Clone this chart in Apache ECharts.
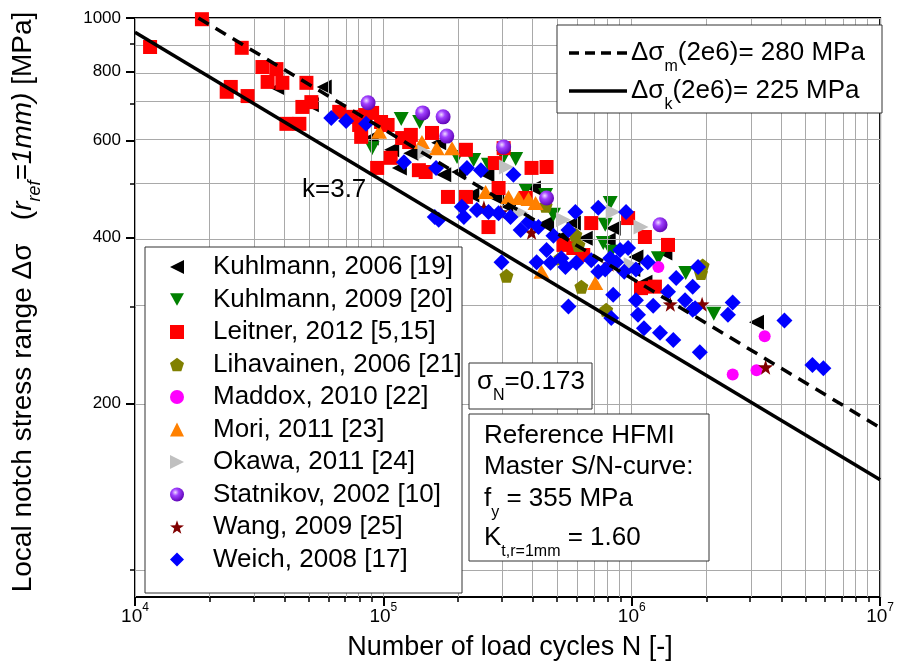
<!DOCTYPE html>
<html><head><meta charset="utf-8">
<script src="https://cdn.jsdelivr.net/npm/echarts@6/dist/echarts.min.js"></script>
<style>html,body{margin:0;padding:0;background:#fff}#c{width:897px;height:663px}</style>
</head><body><div id="c"></div>
<script>
// ---------- data (N cycles, stress range MPa) ----------
const kuhlmann2006 = [[3.75e4,747],[5.13e4,696],[5.78e4,750],[8.93e4,606],[1.08e5,577],[1.29e5,569],[1.16e5,535],[1.67e5,594],[1.75e5,520],[2.01e5,526],[2.61e5,520],[2.27e5,478],[2.86e5,472],[4.02e5,492],[3.19e5,455],[4.54e5,425],[5.82e5,425],[8.42e5,416],[8.04e5,396],[6.50e5,399],[5.21e5,401],[1.04e6,369],[1.01e6,350],[1.36e6,375],[1.13e6,332],[3.18e6,281]];
const kuhlmann2009 = [[1.18e5,656],[1.40e5,648],[9.01e4,581],[1.98e5,560],[2.31e5,553],[2.65e5,542],[3.05e5,560],[3.41e5,555],[3.74e5,488],[4.50e5,478],[4.84e5,440],[8.19e5,462],[7.82e5,422],[7.68e5,391],[8.27e5,377],[1.28e6,367],[1.65e6,345],[2.14e6,291]];
const leitner2012 = [[1.15e4,886],[1.86e4,995],[2.69e4,883],[3.26e4,815],[3.71e4,808],[3.42e4,766],[3.92e4,763],[4.90e4,763],[2.43e4,750],[2.34e4,735],[2.84e4,722],[4.72e4,690],[4.07e4,643],[4.59e4,643],[5.13e4,704],[7.42e4,662],[7.99e4,640],[9.01e4,673],[9.79e4,648],[8.14e4,609],[1.19e5,606],[1.29e5,614],[1.57e5,619],[1.07e5,558],[9.44e4,535],[1.39e5,530],[1.48e5,526],[1.27e5,596],[2.15e5,577],[3.05e5,581],[2.81e5,546],[3.95e5,535],[4.54e5,537],[1.82e5,474],[2.15e5,474],[2.91e5,492],[2.65e5,418],[3.74e5,472],[6.87e5,425],[9.67e5,434],[1.13e6,401],[1.40e6,388],[5.82e5,383],[6.38e5,372],[1.24e6,326],[1.09e6,324],[6.64e4,676],[1.04e5,640],[8.45e4,667],[5.31e5,388]];
const lihavainen2006 = [[4.50e5,457],[5.93e5,405],[6.10e5,388],[5.16e5,367],[3.13e5,341],[6.27e5,326],[7.89e5,296],[1.90e6,345],[1.93e6,356]];
const maddox2010 = [[1.28e6,354],[3.43e6,265],[2.55e6,226],[3.18e6,230]];
const mori2011 = [[9.61e4,622],[1.43e5,596],[1.64e5,581],[1.89e5,581],[2.58e5,484],[3.19e5,474],[3.50e5,472],[3.84e5,470],[4.10e5,462],[4.33e5,347],[7.13e5,331]];
const okawa2011 = [[1.47e5,572],[3.13e5,537],[3.57e5,444],[5.31e5,431],[8.42e5,445],[1.09e6,418],[9.95e5,357]];
const statnikov2002 = [[8.68e4,702],[1.44e5,673],[1.74e5,662],[1.80e5,611],[3.05e5,584],[4.54e5,472],[1.30e6,422]];
const wang2009 = [[2.54e5,453],[2.97e5,445],[3.95e5,409],[8.11e5,358],[1.43e6,303],[1.92e6,303],[3.46e6,233]];
const weich2008 = [[6.17e4,659],[7.08e4,651],[8.52e4,643],[1.21e5,548],[1.63e5,535],[1.61e5,436],[2.17e5,535],[2.47e5,530],[3.34e5,520],[2.07e5,455],[2.65e5,445],[2.91e5,443],[3.25e5,436],[2.11e5,436],[3.57e5,413],[4.21e5,418],[5.93e5,445],[7.33e5,453],[9.49e5,445],[5.41e5,354],[6.87e5,364],[7.82e5,350],[8.98e5,380],[9.67e5,383],[1.04e6,350],[8.42e5,315],[1.04e6,308],[1.22e6,301],[5.56e5,300],[1.06e6,290],[1.40e6,319],[1.51e6,338],[1.64e6,308],[1.76e6,326],[1.85e6,354],[1.80e6,298],[2.99e5,361],[4.14e5,361],[4.71e5,360],[1.67e5,431],[8.27e5,286],[1.12e6,274],[1.30e6,269],[1.47e6,261],[1.88e6,248],[1.76e6,296],[2.55e6,305],[2.44e6,290],[4.12e6,283],[5.34e6,235],[5.91e6,232],[5.21e5,367],[5.98e5,360],[7.33e5,347],[8.66e5,361],[9.33e5,347],[1.16e6,361],[2.38e5,449],[3.84e5,427],[4.84e5,403],[5.56e5,413],[8.19e5,367],[4.54e5,380]];
// S/N curves (end points)
const curveMean = [[1.8e4,1000],[1.0e7,181]];   // dashed, 280 MPa @ 2e6
const curveChar = [[1.0e4,942],[1.0e7,145.6]];  // solid, 225 MPa @ 2e6
// axis ticks
const xMajor = [1e4,1e5,1e6,1e7];
const xMinor = [2e4,3e4,4e4,5e4,6e4,7e4,8e4,9e4,2e5,3e5,4e5,5e5,6e5,7e5,8e5,9e5,2e6,3e6,4e6,5e6,6e6,7e6,8e6,9e6];
const yMajor = [200,400,600,800,1000];
const yMinor = [100,300,500,700,900];
const yMin = 89.3, yMax = 1000;

// ---------- helpers ----------
const L = Math.log10;
const tr = arr => arr.map(p => [L(p[0]), L(p[1])]);
const FONT = 'Liberation Sans, Arial, sans-serif';
const SYM = {
  left: 'path://M0,5L10,0L10,10Z',
  down: 'path://M0,0L10,0L5,9Z',
  right: 'path://M0,0L10,5L0,10Z',
  pent: 'path://M10,0L19.51,6.91L15.88,18.09L4.12,18.09L0.49,6.91Z',
  star: 'path://M10,0L12.35,6.76L19.51,6.91L13.8,11.24L15.88,18.09L10,14L4.12,18.09L6.2,11.24L0.49,6.91L7.65,6.76Z'
};
const sphere = {type:'radial', x:0.38, y:0.35, r:0.7, colorStops:[{offset:0,color:'#f0ddff'},{offset:0.35,color:'#a040ff'},{offset:1,color:'#5a00b0'}]};

const defs = [
  ['Kuhlmann, 2006 [19]', kuhlmann2006, SYM.left, '#000000', [15,15]],
  ['Kuhlmann, 2009 [20]', kuhlmann2009, SYM.down, '#008000', [15,14]],
  ['Leitner, 2012 [5,15]', leitner2012, 'rect', '#ff0000', 14],
  ['Lihavainen, 2006 [21]', lihavainen2006, SYM.pent, '#808000', 14],
  ['Maddox, 2010 [22]', maddox2010, 'circle', '#ff00ff', 12],
  ['Mori, 2011 [23]', mori2011, 'triangle', '#ff8000', [16,14]],
  ['Okawa, 2011 [24]', okawa2011, SYM.right, '#c0c0c0', [15,15]],
  ['Statnikov, 2002 [10]', statnikov2002, 'circle', sphere, 15],
  ['Wang, 2009 [25]', wang2009, SYM.star, '#800000', 15],
  ['Weich, 2008 [17]', weich2008, 'diamond', '#0000ff', 16]
];

const scatterSeries = defs.map((d,i) => ({
  name: d[0], type: 'scatter', data: tr(d[1]), symbol: d[2], symbolSize: d[4],
  itemStyle: {color: d[3], opacity: 1}, z: 3 + i, animation: false, silent: true
}));

const gridSeries = {
  type: 'scatter', data: [], silent: true, z: 1, animation: false,
  markLine: {
    silent: true, symbol: 'none', animation: false, label: {show: false},
    lineStyle: {color: '#a9a9a9', width: 1, type: 'solid'},
    data: xMajor.concat(xMinor).map(v => ({xAxis: L(v)})).concat(yMajor.concat(yMinor).map(v => ({yAxis: L(v)})))
  }
};

const lineSeries = [
  {type:'line', data: tr(curveMean), showSymbol:false, symbol:'none', z:20, animation:false, silent:true,
   lineStyle:{color:'#000', width:3.5, type:[12,8]}},
  {type:'line', data: tr(curveChar), showSymbol:false, symbol:'none', z:20, animation:false, silent:true,
   lineStyle:{color:'#000', width:3.5, type:'solid'}}
];

const txt = (x, y, rich, text) => ({
  type: 'text', x: x, y: y, z: 100,
  style: {text: text, rich: rich, fill: '#000', font: '26px ' + FONT, verticalAlign: 'middle'}
});

const richBox = {
  n: {fontSize: 26, fontFamily: FONT, lineHeight: 28, verticalAlign: 'middle'},
  sub: {fontSize: 16, fontFamily: FONT, lineHeight: 28, verticalAlign: 'bottom', padding:[0,0,-8,0]}
};

const chart = echarts.init(document.getElementById('c'), null, {renderer: 'canvas'});
chart.setOption({
  animation: false,
  backgroundColor: '#ffffff',
  grid: {left: 135, top: 18, width: 748, height: 579, show: true, borderColor: '#000', borderWidth: 2, containLabel: false},
  xAxis: [{
    type: 'value', min: 4, max: 7, interval: 1,
    axisLine: {show: true, onZero: false, lineStyle: {color: '#000', width: 2}},
    axisTick: {show: true, length: 9, lineStyle: {color: '#000', width: 2}, customValues: xMajor.map(L)},
    axisLabel: {show: true, margin: 5, customValues: xMajor.map(L),
      formatter: v => '{b|10}{s|' + Math.round(v) + '}',
      rich: {b: {fontSize: 19, fontFamily: FONT, color: '#000', lineHeight: 24, verticalAlign: 'bottom'},
             s: {fontSize: 12, fontFamily: FONT, color: '#000', lineHeight: 24, verticalAlign: 'top'}}},
    splitLine: {show: false}
  }, {
    type: 'value', min: 4, max: 7, position: 'bottom',
    axisLine: {show: false}, axisLabel: {show: false}, splitLine: {show: false},
    axisTick: {show: true, length: 5, lineStyle: {color: '#000', width: 1.5}, customValues: xMinor.map(L)}
  }],
  yAxis: [{
    type: 'value', min: L(yMin), max: L(yMax),
    axisLine: {show: true, onZero: false, lineStyle: {color: '#000', width: 2}},
    axisTick: {show: true, length: 9, lineStyle: {color: '#000', width: 2}, customValues: yMajor.map(L)},
    axisLabel: {show: true, margin: 14, customValues: yMajor.map(L), color: '#000', fontSize: 17, fontFamily: FONT,
      formatter: v => String(Math.round(Math.pow(10, v)))},
    splitLine: {show: false}
  }, {
    type: 'value', min: L(yMin), max: L(yMax), position: 'left',
    axisLine: {show: false}, axisLabel: {show: false}, splitLine: {show: false},
    axisTick: {show: true, length: 5, lineStyle: {color: '#000', width: 1.5}, customValues: yMinor.map(L)}
  }],
  legend: {
    show: true, orient: 'vertical', left: 165, top: 249,
    itemWidth: 14, itemHeight: 14, itemGap: 6.5, selectedMode: false,
    data: defs.map(d => d[0]),
    textStyle: {fontSize: 26, fontFamily: FONT, color: '#000', lineHeight: 26, padding: [0, 0, 0, 24]},
    z: 60
  },
  series: [gridSeries].concat(lineSeries, scatterSeries),
  graphic: [
    {type: 'rect', shape: {x: 145, y: 247, width: 317, height: 346}, style: {fill: '#fff', stroke: '#333', lineWidth: 1}, z: 50},
    {type: 'rect', shape: {x: 557, y: 25, width: 325, height: 88}, style: {fill: '#fff', stroke: '#333', lineWidth: 1}, z: 50},
    {type: 'line', shape: {x1: 569, y1: 53, x2: 627, y2: 53}, style: {stroke: '#000', lineWidth: 3.5, lineDash: [10, 6]}, z: 51},
    {type: 'line', shape: {x1: 569, y1: 91, x2: 627, y2: 91}, style: {stroke: '#000', lineWidth: 3.5}, z: 51},
    txt(631, 53, richBox, '{n|Δσ}{sub|m}{n|(2e6)= 280 MPa}'),
    txt(631, 91, richBox, '{n|Δσ}{sub|k}{n|(2e6)= 225 MPa}'),
    {type: 'rect', shape: {x: 469, y: 363, width: 123, height: 46}, style: {fill: '#fff', stroke: '#333', lineWidth: 1}, z: 50},
    txt(477, 382, richBox, '{n|σ}{sub|N}{n|=0.173}'),
    {type: 'rect', shape: {x: 469, y: 414, width: 240, height: 147}, style: {fill: '#fff', stroke: '#333', lineWidth: 1}, z: 50},
    txt(484, 436, richBox, '{n|Reference HFMI}'),
    txt(484, 467, richBox, '{n|Master S/N-curve:}'),
    txt(484, 499, richBox, '{n|f}{sub|y}{n| = 355 MPa}'),
    txt(484, 538, richBox, '{n|K}{sub|t,r=1mm}{n| = 1.60}'),
    txt(302, 190, richBox, '{n|k=3.7}'),
    {type: 'text', x: 510, y: 648, z: 100, style: {text: 'Number of load cycles N [-]', font: '27px ' + FONT, fill: '#000', align: 'center', verticalAlign: 'middle'}},
    {type: 'text', x: 23, y: 302, rotation: Math.PI / 2, z: 100, style: {
      text: '{n|Local notch stress range Δσ   (}{i|r}{isub|ref}{i|=1mm)}{n| [MPa]}',
      align: 'center', verticalAlign: 'middle', fill: '#000',
      rich: {
        n: {fontSize: 28, fontFamily: FONT, lineHeight: 30, verticalAlign: 'middle'},
        i: {fontSize: 28, fontFamily: FONT, fontStyle: 'italic', lineHeight: 30, verticalAlign: 'middle'},
        isub: {fontSize: 18, fontFamily: FONT, fontStyle: 'italic', lineHeight: 30, verticalAlign: 'bottom', padding: [0,0,-6,0]}
      }}}
  ]
});
</script></body></html>
